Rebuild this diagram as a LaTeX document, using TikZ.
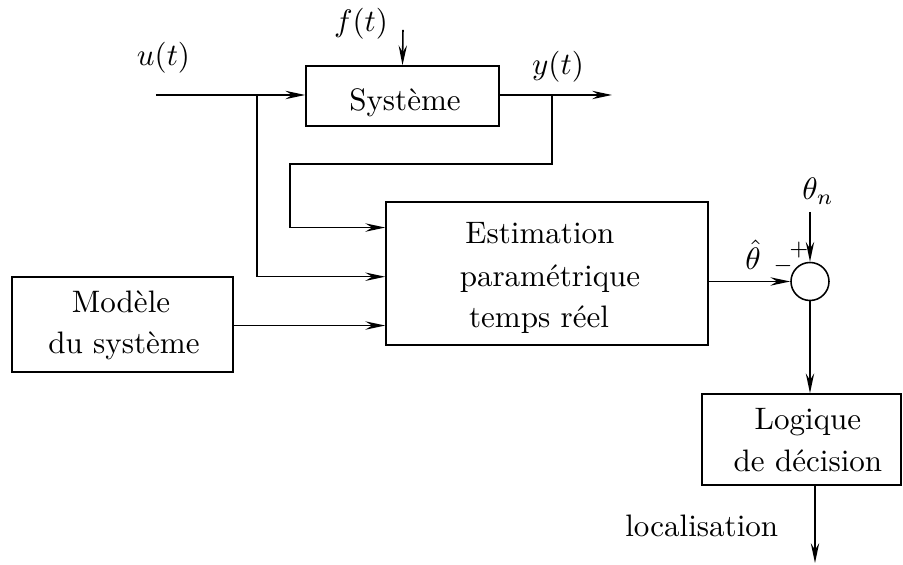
\documentclass[tikz,border=0pt]{standalone}
\usepackage{fontspec}
\usetikzlibrary{arrows.meta,calc}
\def\U{0.322}
\begin{document}
\begin{tikzpicture}[x=\U pt,y=-\U pt,
  line width=0.5pt,
  box/.style={draw, rectangle, inner sep=0pt},
  sumnode/.style={draw, circle, inner sep=0pt, minimum size=38*\U pt},
  arr/.style={-{Stealth[length=6.4pt,width=2.7pt,inset=2.2pt]}},
  txt/.style={anchor=base, inner sep=0pt}]
\useasboundingbox (0,0) rectangle (903,565);
% blocks
\node[box, minimum width=193*\U pt, minimum height=60*\U pt] (sys) at (402.5,96) {};
\node[box, minimum width=322*\U pt, minimum height=143.3*\U pt] (est) at (547,273.4) {};
\node[box, minimum width=221*\U pt, minimum height=95*\U pt] (mod) at (122.5,324.5) {};
\node[box, minimum width=199*\U pt, minimum height=91*\U pt] (logic) at (801.5,439.5) {};
\node[sumnode] (sum) at (810,281.5) {};
% texts
\node[txt] (tsys) at (405,111) {Système};
\node[txt] (te1) at (540,244) {Estimation};
\node[txt] (te2) at (550,286.5) {paramétrique};
\node[txt] (te3) at (539,328) {temps réel};
\node[txt] (tm1) at (121,313) {Modèle};
\node[txt] (tm2) at (124,354) {du système};
\node[txt] (tl1) at (808,430) {Logique};
\node[txt] (tl2) at (808,472) {de décision};
\node[txt] (lu) at (163.5,66) {$u(t)$};
\node[txt] (lf) at (361,32) {$f(t)$};
\node[txt] (ly) at (558,75) {$y(t)$};
\node[txt] (lth) at (753,270) {$\hat{\theta}$};
\node[txt] (ltn) at (818,200) {$\theta_n$};
\node[inner sep=0pt] (lplus) at (799,250) {\scriptsize $+$};
\node[inner sep=0pt] (lminus) at (783,266) {\scriptsize $-$};
\node[txt, anchor=base east] (lloc) at (779,537) {localisation};
% coordinates
\coordinate (uin) at (156,95);
\coordinate (b1) at (257,95);
\coordinate (b2) at (552,95);
\coordinate (yout) at (612,95);
\coordinate (fin) at (403,30);
\coordinate (fb) at (290,164);
\coordinate (thn) at (810,212);
\coordinate (loc) at (815,563);
\coordinate (e1) at ($(est.north west)!0.1835!(est.south west)$);
\coordinate (e2) at ($(est.north west)!0.523!(est.south west)$);
\coordinate (e3) at ($(est.north west)!0.86!(est.south west)$);
% connectors
\draw[arr] (uin) -- (uin -| sys.west);
\draw[arr] (yout -| sys.east) -- (yout);
\draw[arr] (fin) -- (sys.north);
\draw[arr] (b1) |- (e2);
\draw[arr] (b2) |- (fb) |- (e1);
\draw[arr] (mod.east |- e3) -- (e3);
\draw[arr] (sum.west -| est.east) -- (sum.west);
\draw[arr] (thn) -- (sum.north);
\draw[arr] (sum.south) -- (sum.south |- logic.north);
\draw[arr] (loc |- logic.south) -- (loc);
\end{tikzpicture}
\end{document}
